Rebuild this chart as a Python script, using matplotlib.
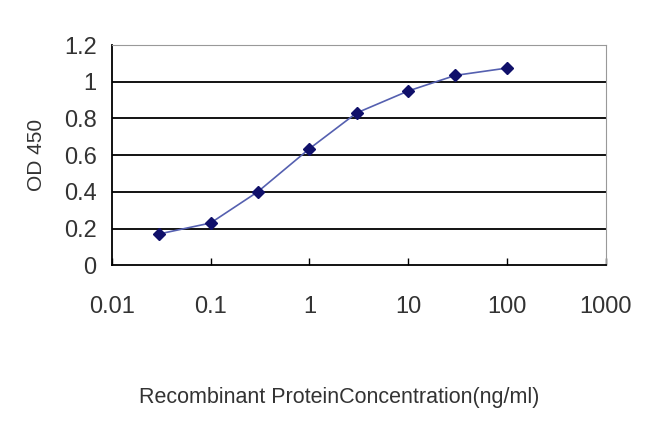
import matplotlib
matplotlib.use('Agg')
import matplotlib.pyplot as plt
from matplotlib.ticker import FixedLocator, FixedFormatter

plt.rcParams['font.family'] = ['Liberation Sans', 'DejaVu Sans']

# Data
concentration = [0.03, 0.1, 0.3, 1, 3, 10, 30, 100]
od450 = [0.17, 0.23, 0.40, 0.635, 0.83, 0.95, 1.035, 1.075]
x_ticks = [0.01, 0.1, 1, 10, 100, 1000]
x_tick_labels = ['0.01', '0.1', '1', '10', '100', '1000']
y_ticks = [0, 0.2, 0.4, 0.6, 0.8, 1, 1.2]
y_tick_labels = ['0', '0.2', '0.4', '0.6', '0.8', '1', '1.2']

fig = plt.figure(figsize=(6.5, 4.34), dpi=100)
ax = fig.add_axes([0.172, 0.389, 0.76, 0.507])

# gridlines
for y in y_ticks[1:-1]:
    ax.axhline(y, color='black', linewidth=1.3, zorder=1)

ax.plot(concentration, od450, color='#5560b0', linewidth=1.2, zorder=2)
ax.plot(concentration, od450, linestyle='none', marker='D', markersize=6.5,
        color='#10106a', zorder=3)

ax.set_xscale('log')
ax.set_xlim(0.01, 1000)
ax.set_ylim(0, 1.2)
ax.xaxis.set_major_locator(FixedLocator(x_ticks))
ax.xaxis.set_major_formatter(FixedFormatter(x_tick_labels))
ax.xaxis.set_minor_locator(FixedLocator([]))
ax.set_yticks(y_ticks)
ax.set_yticklabels(y_tick_labels)

for side in ['top', 'right']:
    ax.spines[side].set_color('#999999')
    ax.spines[side].set_linewidth(0.8)
for side in ['left', 'bottom']:
    ax.spines[side].set_color('black')
    ax.spines[side].set_linewidth(1.3)

ax.tick_params(axis='x', direction='in', length=5, width=1, labelsize=17, pad=22, colors='black')
ax.tick_params(axis='y', direction='out', length=0, labelsize=17, pad=11)
for lbl in ax.get_xticklabels() + ax.get_yticklabels():
    lbl.set_color('#333333')

ax.set_ylabel('OD 450', fontsize=15, color='#333333', labelpad=13)
fig.text(0.522, 0.072, 'Recombinant ProteinConcentration(ng/ml)', ha='center',
         fontsize=15.5, color='#333333')

plt.savefig('out.png', dpi=100)
